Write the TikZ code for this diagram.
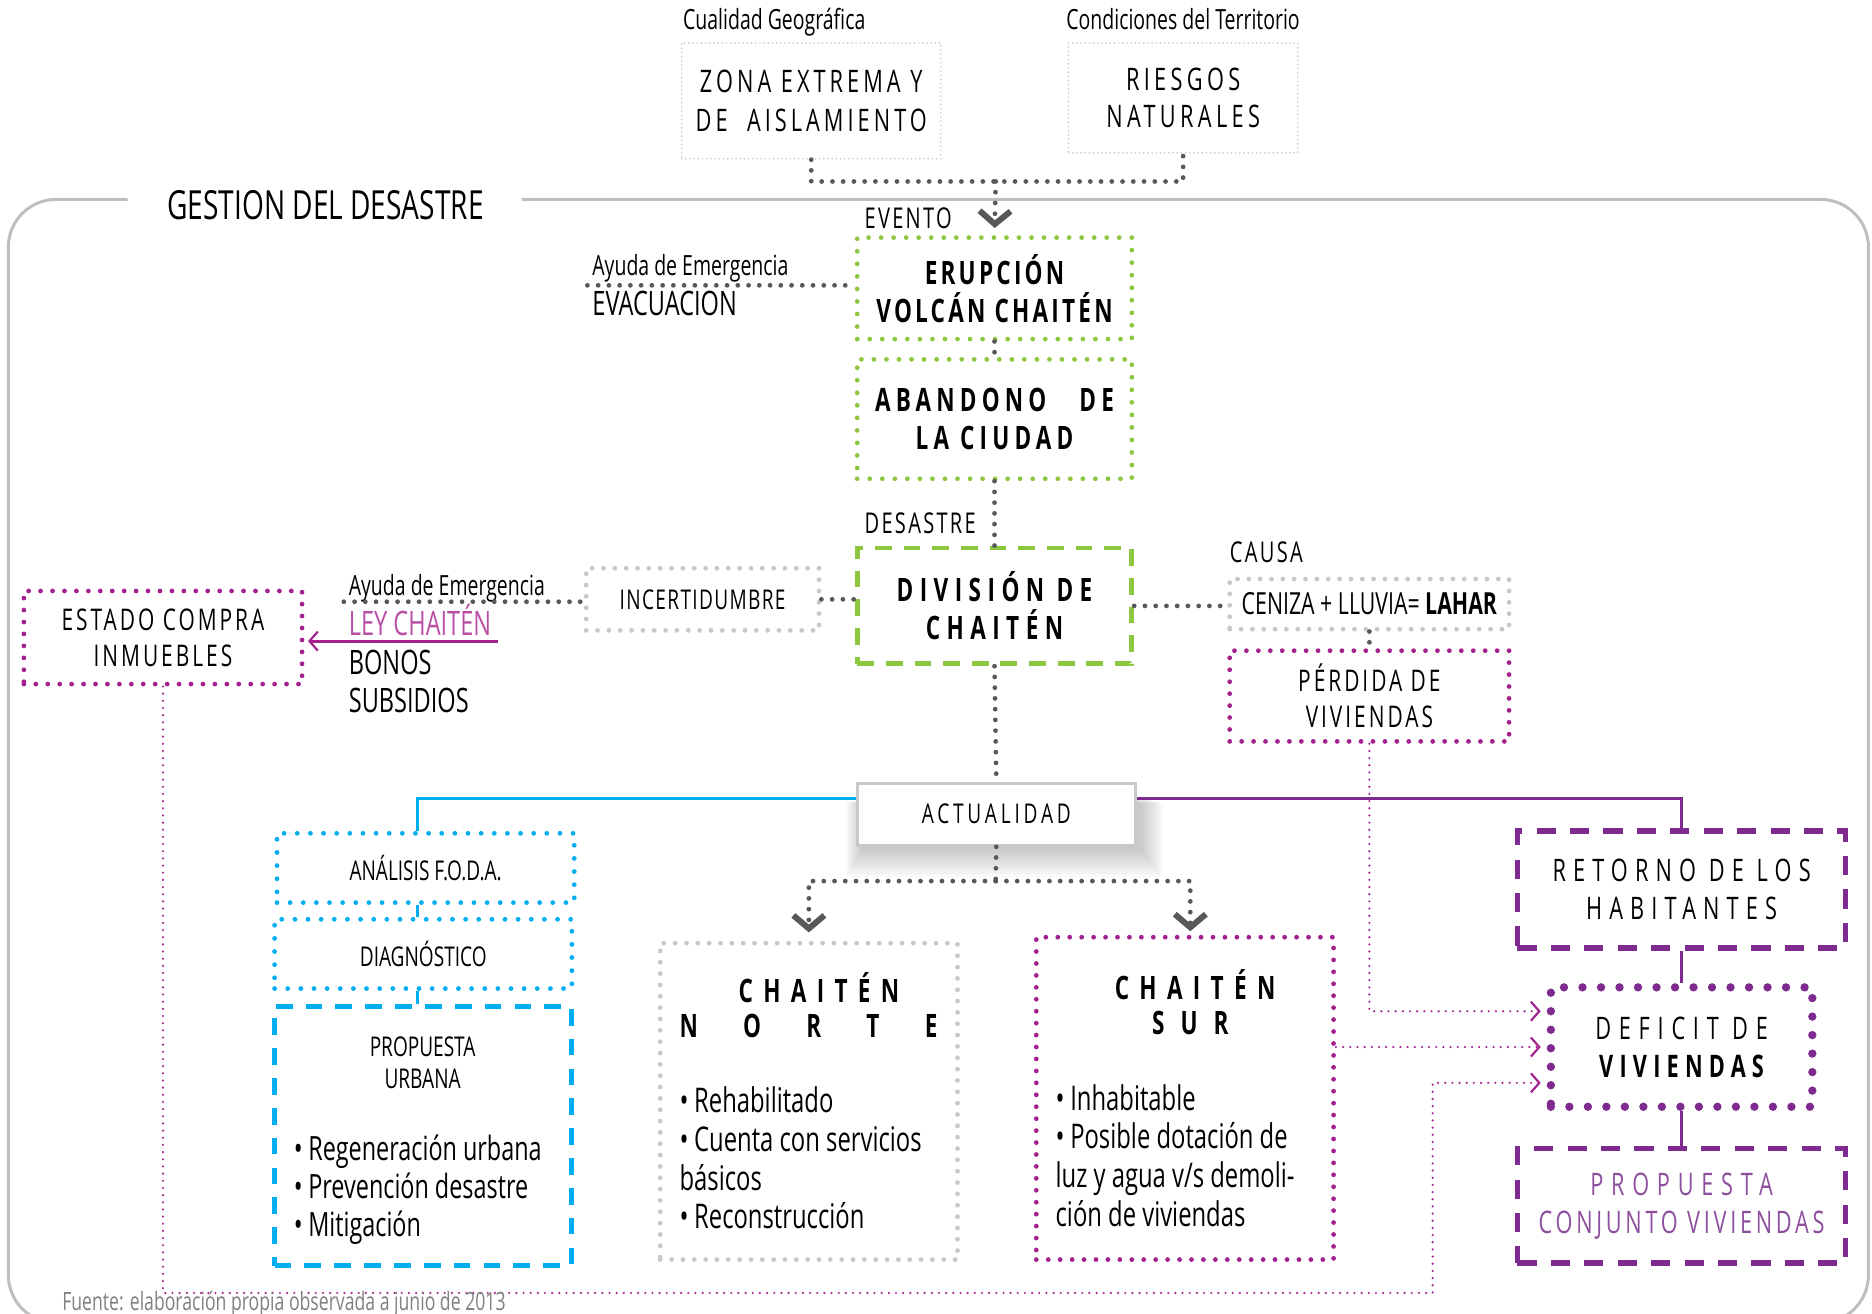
\documentclass[tikz,border=0pt]{standalone}
\usepackage{fontspec}
\setmainfont{Open Sans}[FakeStretch=0.7]
\usetikzlibrary{arrows.meta,positioning}
\newcommand\esp[1]{\addfontfeature{LetterSpace=#1}}
\definecolor{verde}{RGB}{141,198,63}
\definecolor{celeste}{RGB}{0,174,239}
\definecolor{fucsia}{RGB}{163,33,142}
\definecolor{rosa}{RGB}{184,79,165}
\definecolor{morado}{RGB}{127,42,142}
\definecolor{lila}{RGB}{142,78,158}
\definecolor{gris}{RGB}{88,88,90}
\definecolor{grisclaro}{RGB}{200,200,200}
\definecolor{grismarco}{RGB}{190,190,190}

\begin{document}
\begin{tikzpicture}
[x=1pt,y=-1pt,
every node/.style={inner sep=0pt,align=center},
caja/.style={draw=grisclaro,line width=1.5pt,dash pattern=on 0pt off 3.5pt,line cap=round},
cajagris/.style={draw=grisclaro,line width=4pt,dash pattern=on 0pt off 9.5pt,line cap=round},
cajaverde/.style={draw=verde,line width=4pt,dash pattern=on 0pt off 10.5pt,line cap=round},
cajaverdeg/.style={draw=verde,line width=4pt,dash pattern=on 14pt off 10pt},
cajafucsia/.style={draw=fucsia,line width=4pt,dash pattern=on 0pt off 10pt,line cap=round},
cajaceleste/.style={draw=celeste,line width=4pt,dash pattern=on 0pt off 11pt,line cap=round},
cajacelesteg/.style={draw=celeste,line width=4pt,dash pattern=on 14pt off 11pt},
cajamorado/.style={draw=morado,line width=4.5pt,dash pattern=on 16pt off 12pt},
cajamoradop/.style={draw=morado,line width=7pt,dash pattern=on 0pt off 15.5pt,line cap=round},
conn/.style={draw=gris,line width=4pt,dash pattern=on 0pt off 9pt,line cap=round},
fina/.style={draw=fucsia,line width=2pt,dash pattern=on 0pt off 6pt,line cap=round},
chev/.tip={Straight Barb[length=11pt,width=26pt,line width=5pt]},
chevf/.tip={Straight Barb[length=7pt,width=16pt,line width=1.8pt]},
]
\clip (0,0) rectangle (1568,1100.6);
\useasboundingbox (0,0) rectangle (1568,1100.6);

% marco
\draw[grismarco,line width=2.5pt,rounded corners=40pt] (107,167) -- (7,167) -- (7,1108) -- (1565,1108) -- (1565,167) -- (437,167);
\node[anchor=base west,font=\fontsize{33.6}{38}\selectfont] (titulo) at (140,184) {GESTION DEL DESASTRE};

% arriba
\node[anchor=base west,font=\fontsize{23.3}{26}\selectfont] (cualidad) at (572,25) {Cualidad Geográfica};
\node[anchor=base west,font=\fontsize{23.3}{26}\selectfont] (condic) at (893,25) {Condiciones del Territorio};
\node[caja,minimum width=217,minimum height=97,font=\fontsize{26}{32}\selectfont\esp{13}] (zona) at (679.5,84.5) {ZONA EXTREMA Y\\DE\ \ AISLAMIENTO};
\node[caja,minimum width=192,minimum height=92,font=\fontsize{26}{31}\selectfont\esp{14}] (riesgos) at (991,82) {RIESGOS\\NATURALES};

\coordinate (junta) at (834,152);
\draw[conn] (zona.south) |- (junta) -| (riesgos.south);

% evento
\node[anchor=base west,font=\fontsize{24}{26}\selectfont\esp{8}] (evento) at (724,191) {EVENTO};
\node[cajaverde,minimum width=230,minimum height=85,font=\fontsize{27}{32}\selectfont\bfseries\esp{10}] (erupcion) at (833,241.5) {ERUPCIÓN\\VOLCÁN CHAITÉN};
\node[cajaverde,minimum width=230,minimum height=100,font=\fontsize{27}{32}\selectfont\bfseries\esp{16}] (abandono) at (833,351) {ABANDONO\ \ \ DE\\LA CIUDAD};
\node[anchor=base west,font=\fontsize{24}{26}\selectfont\esp{8}] (desastre) at (724,447) {DESASTRE};
\node[cajaverdeg,minimum width=230,minimum height=97,font=\fontsize{27}{32}\selectfont\bfseries\esp{20}] (division) at (833,507.5) {DIVISIÓN DE\\CHAITÉN};

\draw[conn,-chev,shorten >=6pt] (junta) -- (erupcion.north);
\draw[conn] (erupcion.south) -- (abandono.north);
\draw[conn] (abandono.south) -- (division.north);

% ayuda de emergencia
\node[anchor=base west,font=\fontsize{23.3}{26}\selectfont] (ayuda1) at (496,231) {Ayuda de Emergencia};
\node[anchor=base west,font=\fontsize{28.2}{32}\selectfont] (evac) at (496,264) {EVACUACION};
\coordinate (evacl) at (492,239);
\draw[conn] (evacl) -- (evacl -| erupcion.west);

\node[cajagris,minimum width=195,minimum height=52,font=\fontsize{22.8}{26}\selectfont\esp{5}] (incert) at (588.5,502) {INCERTIDUMBRE};
\draw[conn] (incert.east) -- (incert.east -| division.west);
\node[anchor=base west,font=\fontsize{23.3}{26}\selectfont] (ayuda2) at (292,499) {Ayuda de Emergencia};
\coordinate (ayudal) at (288,504);
\draw[conn] (ayudal) -- (ayudal -| incert.west);
\node[anchor=base west,font=\fontsize{28.2}{32}\selectfont,text=rosa] (ley) at (292,532) {LEY CHAITÉN};
\node[anchor=base west,font=\fontsize{28.2}{32}\selectfont] (bonos) at (292,565) {BONOS};
\node[anchor=base west,font=\fontsize{28.2}{32}\selectfont] (subsidios) at (292,597) {SUBSIDIOS};
\node[cajafucsia,minimum width=233,minimum height=78,font=\fontsize{25}{30}\selectfont\esp{10}] (estado) at (136.5,534) {ESTADO COMPRA\\INMUEBLES};
\coordinate (leyl) at (417,537);
\draw[fucsia,line width=2.5pt,-chevf,shorten >=3pt] (leyl) -- (leyl -| estado.east);

% causa
\node[anchor=base west,font=\fontsize{24}{26}\selectfont\esp{8}] (causa) at (1030,471) {CAUSA};
\node[cajagris,minimum width=234,minimum height=42,font=\fontsize{25.5}{28}\selectfont] (ceniza) at (1147,506) {CENIZA + LLUVIA= \textbf{LAHAR}};
\node[cajafucsia,minimum width=234,minimum height=76,font=\fontsize{25}{30}\selectfont\esp{10}] (perdida) at (1147,583) {PÉRDIDA DE\\VIVIENDAS};
\draw[conn] (division.east) -- (division.east -| ceniza.west);
\draw[conn] (ceniza.south) -- (perdida.north);

% actualidad
\foreach \k in {0,...,9}
  \fill[black,opacity=0.025] (722-\k*1.5,668+\k*0.5) rectangle (956+\k*2,712+\k*2.5);
\node[draw=grisclaro,fill=white,line width=2.5pt,minimum width=233,minimum height=52,font=\fontsize{22.8}{26}\selectfont\esp{14}] (actual) at (834.5,682) {ACTUALIDAD};
\draw[conn] (division.south) -- (actual.north);

% izquierda
\node[cajaceleste,minimum width=249,minimum height=58,font=\fontsize{22.8}{26}\selectfont] (foda) at (356.5,727) {ANÁLISIS F.O.D.A.};
\node[cajaceleste,minimum width=249,minimum height=58,font=\fontsize{22.8}{26}\selectfont] (diag) at (354.5,799) {DIAGNÓSTICO};
\node[cajacelesteg,minimum width=249,minimum height=217] (purb) at (354.5,951.5) {};
\node[font=\fontsize{22.8}{27}\selectfont] (purbt) at (354,890) {PROPUESTA\\URBANA};
\node[anchor=north west,align=left,font=\fontsize{28}{32}\selectfont] (purbl) at (246,950) {\textbullet\,Regeneración urbana\\\textbullet\,Prevención desastre\\\textbullet\,Mitigación};
\draw[celeste,line width=2.5pt] ([yshift=13pt]actual.west) -| ([xshift=-7pt]foda.north);
\draw[celeste,line width=2.5pt] ([xshift=-7pt]foda.south) -- ([xshift=-7pt]foda.south |- diag.north);
\draw[celeste,line width=2.5pt] ([xshift=-5pt]diag.south) -- ([xshift=-5pt]diag.south |- purb.north);

% centro
\node[cajagris,minimum width=249,minimum height=265] (norte) at (677.5,922.5) {};
\node[font=\fontsize{27}{30}\selectfont\bfseries\esp{32}] (nortet) at (686,827) {CHAITÉN};
\node[anchor=west,font=\fontsize{27}{30}\selectfont\bfseries] (nortes) at (569,859) {\makebox[216pt]{N\hfill O\hfill R\hfill T\hfill E}};
\node[anchor=north west,align=left,font=\fontsize{28.5}{32.5}\selectfont] (nortel) at (569,910) {\textbullet\,Rehabilitado\\\textbullet\,Cuenta con servicios\\básicos\\\textbullet\,Reconstrucción};

\node[cajafucsia,minimum width=249,minimum height=270] (sur) at (992.5,920) {};
\node[font=\fontsize{27}{30}\selectfont\bfseries\esp{32}] (surt) at (1001,825) {CHAITÉN};
\node[font=\fontsize{27}{30}\selectfont\bfseries\esp{50}] (surs) at (997,857) {SUR};
\node[anchor=north west,align=left,font=\fontsize{28.5}{32.5}\selectfont] (surl) at (884,908) {\textbullet\,Inhabitable\\\textbullet\,Posible dotación de\\luz y agua v/s demoli-\\ción de viviendas};

\coordinate (rama) at (834,738);
\draw[conn] (actual.south) -- (rama);
\draw[conn,-chev,shorten >=7pt] (rama) -| (norte.north);
\draw[conn,-chev,shorten >=3pt] (rama) -| ([xshift=4.5pt]sur.north);

% derecha
\node[cajamorado,minimum width=275,minimum height=98,font=\fontsize{26}{32}\selectfont\esp{23}] (retorno) at (1408.5,745) {RETORNO DE LOS\\HABITANTES};
\node[cajamoradop,minimum width=219,minimum height=100,font=\fontsize{26}{32}\selectfont\esp{25}] (deficit) at (1408.5,877) {DEFICIT DE\\{\bfseries\esp{20}VIVIENDAS}};
\node[cajamorado,minimum width=275,minimum height=96,font=\fontsize{26}{32}\selectfont\esp{12},text=lila] (propconj) at (1408.5,1010) {{\esp{25}PROPUESTA}\\CONJUNTO VIVIENDAS};
\draw[morado,line width=2.5pt] ([yshift=13pt]actual.east) -| (retorno.north);
\draw[morado,line width=2.5pt] (retorno.south) -- (deficit.north);
\draw[morado,line width=2.5pt] (deficit.south) -- (propconj.north);

\draw[fina,-chevf,shorten >=5pt] (perdida.south) |- ([yshift=30pt]deficit.west);
\draw[fina,-chevf,shorten >=5pt] (sur.east |- deficit.west) -- (deficit.west);
\draw[fina,-chevf,shorten >=5pt] (estado.south) |- (1200,1083) |- ([yshift=-30pt]deficit.west);

\node[anchor=base west,font=\fontsize{21.1}{24}\selectfont,text=gray] (fuente) at (52,1098) {Fuente: elaboración propia observada a junio de 2013};
\end{tikzpicture}
\end{document}
